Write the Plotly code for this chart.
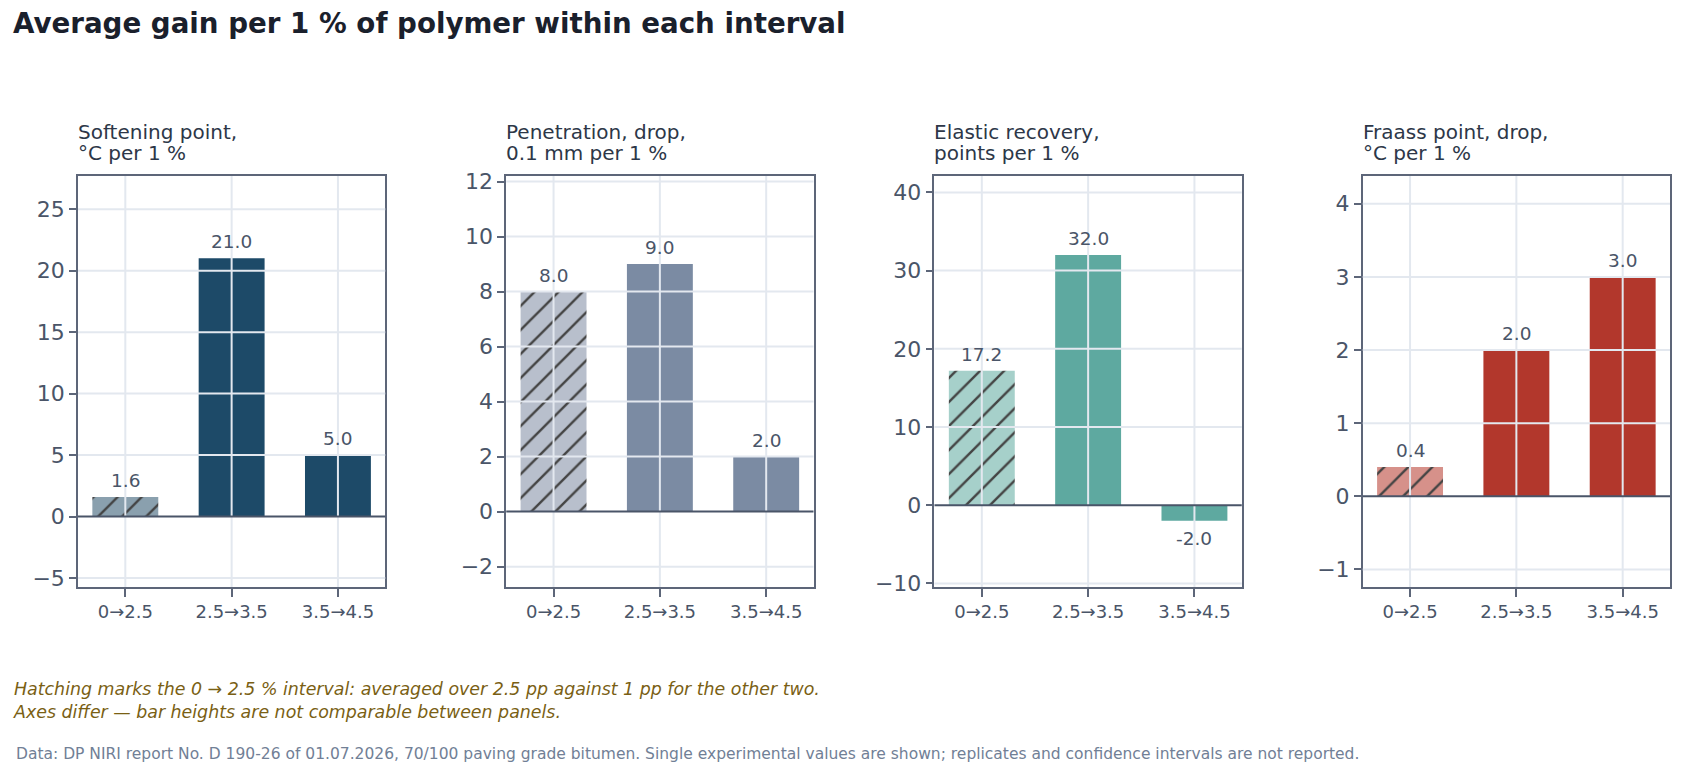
import plotly.graph_objects as go
from plotly.subplots import make_subplots

# ---------------- data ----------------
intervals = ["0→2.5", "2.5→3.5", "3.5→4.5"]
softening_gain = [1.6, 21.0, 5.0]
penetration_drop = [8.0, 9.0, 2.0]
elastic_gain = [17.2, 32.0, -2.0]
fraass_drop = [0.4, 2.0, 3.0]

panel_title_line1 = ["Softening point,", "Penetration, drop,", "Elastic recovery,", "Fraass point, drop,"]
panel_title_line2 = ["°C per 1 %", "0.1 mm per 1 %", "points per 1 %", "°C per 1 %"]

y_tickvals = [
    [-5, 0, 5, 10, 15, 20, 25],
    [-2, 0, 2, 4, 6, 8, 10, 12],
    [-10, 0, 10, 20, 30, 40],
    [-1, 0, 1, 2, 3, 4],
]
y_ranges = [[-5.73, 27.7], [-2.74, 12.2], [-10.46, 42.1], [-1.24, 4.38]]

solid_colors = ["#1d4a68", "#7b8ba3", "#5ea9a0", "#b2372c"]
hatch_colors = ["#8aa0ae", "#b8bfcc", "#a6d0ca", "#d6918a"]

hatched = [True, False, False]

title_text = "Average gain per 1 % of polymer within each interval"
note_text = ("Hatching marks the 0 → 2.5 % interval: averaged over 2.5 pp against 1 pp for the other two."
             "<br>Axes differ — bar heights are not comparable between panels.")
source_text = ("Data: DP NIRI report No. D 190-26 of 01.07.2026, 70/100 paving grade bitumen. "
               "Single experimental values are shown; replicates and confidence intervals are not reported.")

series = [softening_gain, penetration_drop, elastic_gain, fraass_drop]

# ---------------- styling ----------------
FONT = "DejaVu Sans"
GRID = "#e3e8ef"
FRAME = "#5d6679"
ZERO = "#4a5568"
TICKTXT = "#4a5568"

fig = make_subplots(rows=1, cols=4, horizontal_spacing=0.076)

for i, vals in enumerate(series):
    col = i + 1
    colors = [hatch_colors[i] if h else solid_colors[i] for h in hatched]
    shapes_p = ["/" if h else "" for h in hatched]
    fig.add_trace(
        go.Bar(
            x=intervals,
            y=vals,
            width=0.62,
            marker=dict(
                color=colors,
                line=dict(width=0),
                pattern=dict(shape=shapes_p, fgcolor="#000000", fgopacity=1,
                             size=17, solidity=0.14),
            ),
            showlegend=False,
            hoverinfo="skip",
        ),
        row=1, col=col,
    )
    fig.update_yaxes(
        range=y_ranges[i], tickvals=y_tickvals[i], showgrid=False, zeroline=False,
        showline=True, mirror=True, linecolor=FRAME, linewidth=1.5,
        ticks="outside", ticklen=7, tickwidth=1.5, tickcolor=FRAME,
        tickfont=dict(family=FONT, size=22, color=TICKTXT),
        row=1, col=col,
    )
    fig.update_xaxes(
        range=[-0.445, 2.445], showgrid=False, zeroline=False,
        showline=True, mirror=True, linecolor=FRAME, linewidth=1.5,
        ticks="outside", ticklen=8, tickwidth=1.5, tickcolor=FRAME,
        tickfont=dict(family=FONT, size=18, color=TICKTXT),
        row=1, col=col,
    )

    xs = "x" if col == 1 else f"x{col}"
    ys = "y" if col == 1 else f"y{col}"
    # gridlines drawn above the bars
    for cat in intervals:
        fig.add_shape(type="line", xref=xs, yref=f"{ys} domain", x0=cat, x1=cat, y0=0, y1=1,
                      line=dict(color=GRID, width=2), layer="above")
    for tv in y_tickvals[i]:
        if tv == 0:
            continue
        fig.add_shape(type="line", xref=f"{xs} domain", yref=ys, x0=0, x1=1, y0=tv, y1=tv,
                      line=dict(color=GRID, width=2), layer="above")
    fig.add_shape(type="line", xref=f"{xs} domain", yref=ys, x0=0, x1=1, y0=0, y1=0,
                  line=dict(color=ZERO, width=2), layer="above")

    # value labels (above the gridlines)
    for cat, v in zip(intervals, vals):
        fig.add_annotation(text=f"{v:.1f}", xref=xs, yref=ys, x=cat, y=v,
                           xanchor="center", yanchor="bottom" if v >= 0 else "top",
                           yshift=4 if v >= 0 else -5, showarrow=False,
                           font=dict(family=FONT, size=18.5, color=TICKTXT))

    # panel titles (two lines)
    fig.add_annotation(text=panel_title_line1[i], xref=f"{xs} domain", yref="paper", x=0, y=1,
                       xanchor="left", yanchor="middle", yshift=44, xshift=-2, showarrow=False,
                       font=dict(family=FONT, size=20, color="#2d3748"))
    fig.add_annotation(text=panel_title_line2[i], xref=f"{xs} domain", yref="paper", x=0, y=1,
                       xanchor="left", yanchor="middle", yshift=23, xshift=-2, showarrow=False,
                       font=dict(family=FONT, size=20, color="#2d3748"))

fig.add_annotation(text=note_text, xref="paper", yref="paper", x=-67 / 1592, y=0,
                   xanchor="left", yanchor="top", yshift=-90, align="left", showarrow=False,
                   font=dict(family=FONT, size=17.4, color="#7a5f14", style="italic"))
fig.add_annotation(text=source_text, xref="paper", yref="paper", x=-64 / 1592, y=0,
                   xanchor="left", yanchor="middle", yshift=-167, align="left", showarrow=False,
                   font=dict(family=FONT, size=15.5, color="#718096"))

fig.update_layout(
    width=1696, height=768,
    margin=dict(l=78, r=26, t=176, b=181),
    paper_bgcolor="white", plot_bgcolor="white",
    title=dict(text=f"<b>{title_text}</b>", xref="container", yref="container",
               x=13 / 1696, y=1 - 14 / 768, xanchor="left", yanchor="top",
               font=dict(family=FONT, size=27.7, color="#1a202c")),
    font=dict(family=FONT),
)

fig.write_html("out.html")
